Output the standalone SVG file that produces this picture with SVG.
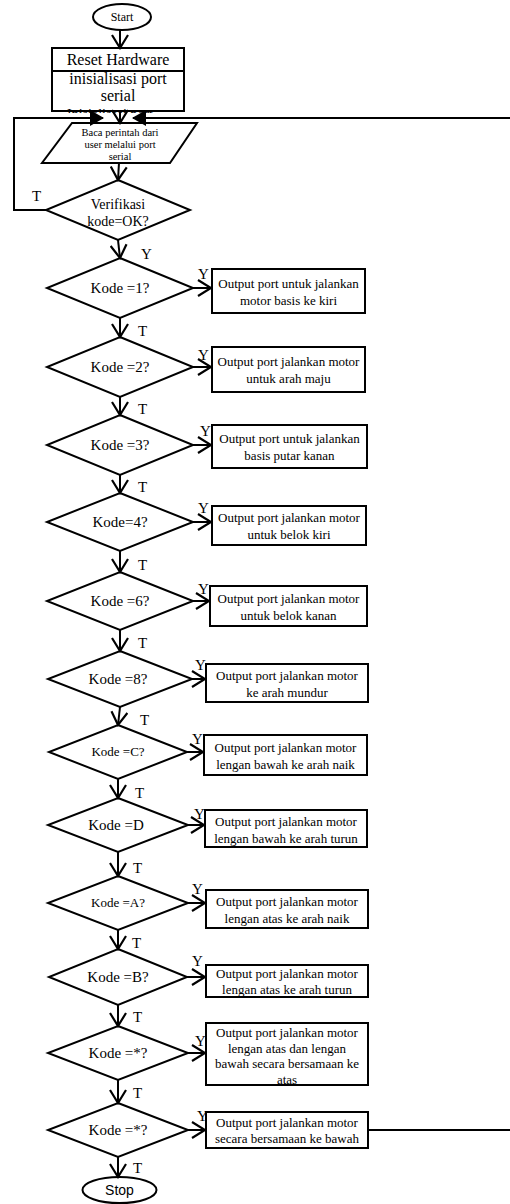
<svg xmlns="http://www.w3.org/2000/svg" width="510" height="1204" viewBox="0 0 510 1204">
<style>
.s{fill:#fff;stroke:#000;stroke-width:2}
.c{fill:none;stroke:#000;stroke-width:2}
.t{font-family:"Liberation Serif","Times New Roman",serif;fill:#000;text-anchor:middle}
.b{font-size:13px}
.k{font-size:15px}
.lb{font-family:"Liberation Serif","Times New Roman",serif;font-size:15px;fill:#000}
</style>
<defs>
<marker id="v" viewBox="0 0 16 18" refX="14" refY="9" markerWidth="16" markerHeight="18" markerUnits="userSpaceOnUse" orient="auto">
<path d="M1,1 L14,9 L1,17" fill="none" stroke="#000" stroke-width="2.2"/>
</marker>
<marker id="f" viewBox="0 0 14 16" refX="13" refY="8" markerWidth="14" markerHeight="16" markerUnits="userSpaceOnUse" orient="auto">
<path d="M0,0 L14,8 L0,16 Z" fill="#000"/>
</marker>
<clipPath id="hid"><rect x="40" y="107" width="160" height="6"/></clipPath>
</defs>

<g id="start">
<ellipse class="s" cx="122" cy="17" rx="29" ry="13"/>
<text class="t" x="122" y="21" style="font-size:12px">Start</text>
</g>

<g id="reset">
<rect class="s" x="52" y="48" width="132" height="63"/>
<line class="c" x1="52" y1="71" x2="184" y2="71"/>
<text class="t" x="118" y="65" style="font-size:16px">Reset Hardware</text>
<text class="t" x="118" y="84" style="font-size:16px">inisialisasi port</text>
<text class="t" x="118" y="101" style="font-size:16px">serial</text>
</g>
<g id="hidden-text" clip-path="url(#hid)">
<text class="t" x="110" y="119" style="font-size:14px">Inisialisasi port</text>
</g>

<g id="input">
<polygon class="s" points="72,123 197,123 170,163 42,163"/>
<text class="t" x="120" y="136" style="font-size:10.5px">Baca perintah dari</text>
<text class="t" x="120" y="148" style="font-size:10.5px">user melalui port</text>
<text class="t" x="120" y="160" style="font-size:10.5px">serial</text>
</g>

<g id="verifikasi">
<polygon class="s" points="118,180 190,210 118,240 46,210"/>
<text class="t" x="118" y="209" style="font-size:14px">Verifikasi</text>
<text class="t" x="118" y="226" style="font-size:14px">kode=OK?</text>
</g>

<g id="d1"><polygon class="s" points="120,258 193,288 120,318 47,288"/><text class="t k" x="120" y="293">Kode =1?</text></g>
<g id="d2"><polygon class="s" points="120,337 193,367 120,397 47,367"/><text class="t k" x="120" y="372">Kode =2?</text></g>
<g id="d3"><polygon class="s" points="120,415 193,445 120,475 47,445"/><text class="t k" x="120" y="450">Kode =3?</text></g>
<g id="d4"><polygon class="s" points="120,493 193,522 120,551 47,522"/><text class="t k" x="120" y="527">Kode=4?</text></g>
<g id="d6"><polygon class="s" points="120,572 193,601 120,630 47,601"/><text class="t k" x="120" y="606">Kode =6?</text></g>
<g id="d8"><polygon class="s" points="120,651 192,679 120,707 48,679"/><text class="t k" x="118" y="684">Kode =8?</text></g>
<g id="dC"><polygon class="s" points="118,725 187,752 118,779 49,752"/><text class="t" x="118" y="756" style="font-size:13px">Kode =C?</text></g>
<g id="dD"><polygon class="s" points="118,798 188,825 118,852 48,825"/><text class="t k" x="116" y="830">Kode =D</text></g>
<g id="dA"><polygon class="s" points="118,876 188,903 118,930 48,903"/><text class="t" x="118" y="907" style="font-size:13px">Kode =A?</text></g>
<g id="dB"><polygon class="s" points="118,949 187,977 118,1005 49,977"/><text class="t k" x="118" y="982">Kode =B?</text></g>
<g id="dS1"><polygon class="s" points="118,1026 188,1053 118,1080 48,1053"/><text class="t k" x="118" y="1058">Kode =*?</text></g>
<g id="dS2"><polygon class="s" points="118,1103 188,1130 118,1157 48,1130"/><text class="t k" x="118" y="1135">Kode =*?</text></g>

<g id="b1"><rect class="s" x="212" y="269" width="153" height="44"/><text class="t b" x="288.5" y="288">Output port untuk jalankan</text><text class="t b" x="288.5" y="305">motor basis ke kiri</text></g>
<g id="b2"><rect class="s" x="212" y="347" width="153" height="45"/><text class="t b" x="288.5" y="366">Output port jalankan motor</text><text class="t b" x="288.5" y="383">untuk arah maju</text></g>
<g id="b3"><rect class="s" x="212" y="425" width="155" height="43"/><text class="t b" x="289.5" y="443">Output port untuk jalankan</text><text class="t b" x="289.5" y="460">basis putar kanan</text></g>
<g id="b4"><rect class="s" x="212" y="506" width="154" height="39"/><text class="t b" x="289" y="522">Output port jalankan motor</text><text class="t b" x="289" y="539">untuk belok kiri</text></g>
<g id="b6"><rect class="s" x="210" y="586" width="157" height="40"/><text class="t b" x="288.5" y="603">Output port jalankan motor</text><text class="t b" x="288.5" y="620">untuk belok kanan</text></g>
<g id="b8"><rect class="s" x="206" y="664" width="162" height="38"/><text class="t b" x="287" y="680">Output port jalankan motor</text><text class="t b" x="287" y="697">ke arah mundur</text></g>
<g id="bC"><rect class="s" x="204" y="735" width="163" height="40"/><text class="t b" x="285.5" y="752">Output port jalankan motor</text><text class="t b" x="285.5" y="769">lengan bawah ke arah naik</text></g>
<g id="bD"><rect class="s" x="205" y="810" width="162" height="37"/><text class="t b" x="286" y="826">Output port jalankan motor</text><text class="t b" x="286" y="843">lengan bawah ke arah turun</text></g>
<g id="bA"><rect class="s" x="206" y="890" width="162" height="38"/><text class="t b" x="287" y="906">Output port jalankan motor</text><text class="t b" x="287" y="923">lengan atas ke arah naik</text></g>
<g id="bB"><rect class="s" x="206" y="965" width="162" height="32"/><text class="t b" x="287" y="978">Output port jalankan motor</text><text class="t b" x="287" y="994">lengan atas ke arah turun</text></g>
<g id="bS1"><rect class="s" x="206" y="1023" width="162" height="62"/><text class="t b" x="287" y="1037">Output port jalankan motor</text><text class="t b" x="287" y="1053">lengan atas dan lengan</text><text class="t b" x="287" y="1068">bawah secara bersamaan ke</text><text class="t b" x="287" y="1084">atas</text></g>
<g id="bS2"><rect class="s" x="206" y="1112" width="162" height="36"/><text class="t b" x="287" y="1127">Output port jalankan motor</text><text class="t b" x="287" y="1143">secara bersamaan ke bawah</text></g>

<g id="stop">
<ellipse class="s" cx="119.5" cy="1190" rx="37" ry="13"/>
<text x="119.5" y="1195" style="font-family:'Liberation Sans',Arial,sans-serif;font-size:14px;text-anchor:middle;fill:#000">Stop</text>
</g>

<g id="connectors">
<line class="c" x1="120" y1="30" x2="120" y2="48" marker-end="url(#v)"/>
<line class="c" x1="120" y1="111" x2="120" y2="123" marker-end="url(#v)"/>
<line class="c" x1="119" y1="163" x2="118" y2="180" marker-end="url(#v)"/>
<polyline class="c" points="48,210 14,210 14,118 103,118" marker-end="url(#f)"/>
<line class="c" x1="510" y1="118" x2="133" y2="118" marker-end="url(#f)"/>
<line class="c" x1="118" y1="240" x2="120" y2="258" marker-end="url(#v)"/>
<line class="c" x1="120" y1="318" x2="120" y2="337" marker-end="url(#v)"/>
<line class="c" x1="120" y1="397" x2="120" y2="415" marker-end="url(#v)"/>
<line class="c" x1="120" y1="475" x2="120" y2="493" marker-end="url(#v)"/>
<line class="c" x1="120" y1="551" x2="120" y2="572" marker-end="url(#v)"/>
<line class="c" x1="120" y1="630" x2="120" y2="651" marker-end="url(#v)"/>
<line class="c" x1="120" y1="707" x2="118" y2="725" marker-end="url(#v)"/>
<line class="c" x1="118" y1="779" x2="118" y2="798" marker-end="url(#v)"/>
<line class="c" x1="118" y1="852" x2="118" y2="876" marker-end="url(#v)"/>
<line class="c" x1="118" y1="930" x2="118" y2="949" marker-end="url(#v)"/>
<line class="c" x1="118" y1="1005" x2="118" y2="1026" marker-end="url(#v)"/>
<line class="c" x1="118" y1="1080" x2="118" y2="1103" marker-end="url(#v)"/>
<line class="c" x1="118" y1="1157" x2="118" y2="1177" marker-end="url(#v)"/>
<line class="c" x1="193" y1="288" x2="211" y2="288" marker-end="url(#v)"/>
<line class="c" x1="193" y1="367" x2="211" y2="367" marker-end="url(#v)"/>
<line class="c" x1="193" y1="445" x2="211" y2="445" marker-end="url(#v)"/>
<line class="c" x1="193" y1="522" x2="211" y2="522" marker-end="url(#v)"/>
<line class="c" x1="193" y1="601" x2="209" y2="601" marker-end="url(#v)"/>
<line class="c" x1="192" y1="679" x2="205" y2="679" marker-end="url(#v)"/>
<line class="c" x1="187" y1="752" x2="203" y2="752" marker-end="url(#v)"/>
<line class="c" x1="188" y1="825" x2="204" y2="825" marker-end="url(#v)"/>
<line class="c" x1="188" y1="903" x2="205" y2="903" marker-end="url(#v)"/>
<line class="c" x1="187" y1="977" x2="205" y2="977" marker-end="url(#v)"/>
<line class="c" x1="188" y1="1053" x2="205" y2="1053" marker-end="url(#v)"/>
<line class="c" x1="188" y1="1130" x2="205" y2="1130" marker-end="url(#v)"/>
<line class="c" x1="368" y1="1130" x2="510" y2="1130"/>
</g>

<g id="labels">
<text class="lb" x="32" y="201">T</text>
<text class="lb" x="141" y="259">Y</text>
<text class="lb" x="138" y="336">T</text>
<text class="lb" x="138" y="414">T</text>
<text class="lb" x="138" y="492">T</text>
<text class="lb" x="138" y="570">T</text>
<text class="lb" x="138" y="648">T</text>
<text class="lb" x="140" y="725">T</text>
<text class="lb" x="135" y="798">T</text>
<text class="lb" x="133" y="873">T</text>
<text class="lb" x="132" y="948">T</text>
<text class="lb" x="133" y="1022">T</text>
<text class="lb" x="133" y="1098">T</text>
<text class="lb" x="133" y="1173">T</text>
<text class="lb" x="198" y="279">Y</text>
<text class="lb" x="198" y="360">Y</text>
<text class="lb" x="200" y="436">Y</text>
<text class="lb" x="198" y="513">Y</text>
<text class="lb" x="198" y="594">Y</text>
<text class="lb" x="195" y="670">Y</text>
<text class="lb" x="192" y="744">Y</text>
<text class="lb" x="194" y="819">Y</text>
<text class="lb" x="192" y="894">Y</text>
<text class="lb" x="192" y="966">Y</text>
<text class="lb" x="195" y="1046">Y</text>
<text class="lb" x="197" y="1121">Y</text>
</g>
</svg>
